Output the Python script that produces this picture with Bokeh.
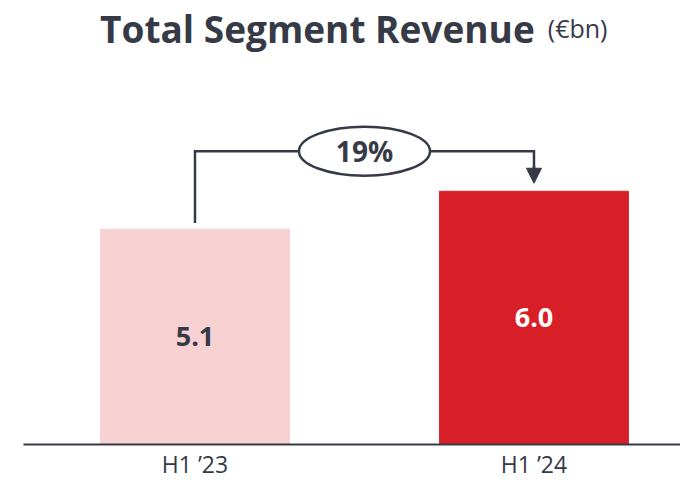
from bokeh.plotting import figure
from bokeh.models import Range1d, FixedTicker, Label, Arrow, NormalHead, ColumnDataSource
from bokeh.embed import file_html
from bokeh.resources import INLINE
from bokeh.core.properties import value

# ---- data ----
categories = ["H1 \u201923", "H1 \u201924"]
revenue = [5.1, 6.0]
value_labels = ["5.1", "6.0"]
growth_label = "19%"
title_main = "Total Segment Revenue"
title_unit = "(\u20acbn)"

# ---- styles ----
DARK = "#363a47"
bar_colors = ["#f8d1d3", "#d81f28"]
label_colors = [DARK, "#ffffff"]
FONT = "Open Sans"

xs = list(range(len(categories)))

p = figure(width=680, height=482,
           x_range=Range1d(-0.5059, 1.4322), y_range=Range1d(0, 10.52),
           output_backend="svg", toolbar_location=None,
           min_border_left=23, min_border_right=0, min_border_top=0, min_border_bottom=0,
           y_axis_location=None, outline_line_color=None)
p.grid.visible = False
p.background_fill_color = "white"
p.border_fill_color = "white"

src = ColumnDataSource(dict(
    x=xs, top=revenue, color=bar_colors, label=value_labels,
    lcolor=label_colors, ymid=[v / 2 for v in revenue]))

p.vbar(x="x", top="top", bottom=0, width=0.557, color="color", source=src)
p.text(x="x", y="ymid", text="label", text_color="lcolor",
       text_font=value(FONT), text_font_style="bold", text_font_size="27px",
       text_align="center", text_baseline="middle", source=src)

ax = p.xaxis[0]
ax.ticker = FixedTicker(ticks=xs)
ax.major_label_overrides = {i: c for i, c in enumerate(categories)}
ax.major_tick_line_color = None
ax.minor_tick_line_color = None
ax.major_tick_out = 0
ax.major_tick_in = 0
ax.minor_tick_out = 0
ax.minor_tick_in = 0
ax.axis_line_color = DARK
ax.axis_line_width = 2
ax.major_label_text_font = FONT
ax.major_label_text_font_size = "23px"
ax.major_label_text_color = DARK
ax.major_label_standoff = 3

# ---- growth connector ----
top_y = max(revenue) + 0.95
p.line(x=[xs[0], xs[0], xs[1], xs[1]],
       y=[revenue[0] + 0.15, top_y, top_y, revenue[1] + 0.5],
       line_color=DARK, line_width=2.5, line_join="miter")
p.add_layout(Arrow(end=NormalHead(size=15, fill_color=DARK, line_color=DARK, line_width=1),
                   x_start=xs[1], y_start=revenue[1] + 0.6,
                   x_end=xs[1], y_end=revenue[1] + 0.19,
                   line_color=DARK, line_width=2.5))
mid_x = (xs[0] + xs[1]) / 2
p.ellipse(x=[mid_x], y=[top_y], width=131, height=49,
          width_units="screen", height_units="screen",
          fill_color="white", line_color=DARK, line_width=2.5)
p.text(x=[mid_x], y=[top_y], text=[growth_label], text_color=DARK,
       text_font=value(FONT), text_font_style="bold", text_font_size="28px",
       text_align="center", text_baseline="middle")

# ---- title ----
p.add_layout(Label(x=1.02, y=9.858, x_offset=-6, text=title_main,
                   text_font=FONT, text_font_style="bold", text_font_size="37px",
                   text_color=DARK, text_align="right", text_baseline="alphabetic"))
p.add_layout(Label(x=1.02, y=9.858, x_offset=7, text=title_unit,
                   text_font=FONT, text_font_size="25px",
                   text_color=DARK, text_align="left", text_baseline="alphabetic"))

open("out.html", "w").write(file_html(p, INLINE))
